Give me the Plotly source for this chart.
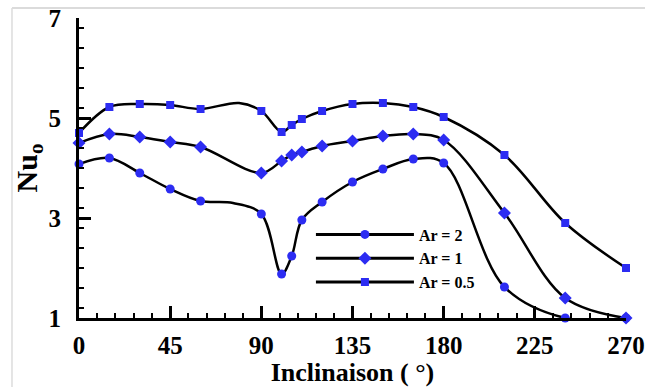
import plotly.graph_objects as go

# Marked data points (inclination in degrees, Nu_o)
x_ar2 = [0, 15, 30, 45, 60, 90, 100, 105, 110, 120, 135, 150, 165, 180, 210, 240, 270]
y_ar2 = [4.08, 4.20, 3.90, 3.58, 3.34, 3.08, 1.88, 2.24, 2.96, 3.32, 3.72, 3.98, 4.18, 4.10, 1.62, 1.00, 1.00]

x_ar1 = [0, 15, 30, 45, 60, 90, 100, 105, 110, 120, 135, 150, 165, 180, 210, 240, 270]
y_ar1 = [4.50, 4.68, 4.62, 4.52, 4.42, 3.90, 4.14, 4.26, 4.32, 4.44, 4.54, 4.64, 4.68, 4.56, 3.10, 1.40, 1.00]

x_ar05 = [0, 15, 30, 45, 60, 90, 100, 105, 110, 120, 135, 150, 165, 180, 210, 240, 270]
y_ar05 = [4.70, 5.22, 5.28, 5.26, 5.18, 5.14, 4.72, 4.86, 4.98, 5.14, 5.28, 5.30, 5.22, 5.02, 4.26, 2.90, 2.00]

# Extra unmarked points the smooth curves pass through
cx_ar2 = [76]
cy_ar2 = [3.30]
cx_ar1 = []
cy_ar1 = []
cx_ar05 = [79]
cy_ar05 = [5.30]

names = ["Ar = 2", "Ar = 1", "Ar = 0.5"]
symbols = ["circle", "diamond", "square"]
sizes = [9, 10, 8]

series = [
    (x_ar2, y_ar2, cx_ar2, cy_ar2),
    (x_ar1, y_ar1, cx_ar1, cy_ar1),
    (x_ar05, y_ar05, cx_ar05, cy_ar05),
]

BLUE = "#2c2cf2"
SERIF = "Liberation Serif"

fig = go.Figure()
for (xs, ys, cxs, cys), name, sym, sz in zip(series, names, symbols, sizes):
    pts = sorted(zip(list(xs) + list(cxs), list(ys) + list(cys)))
    fig.add_trace(go.Scatter(
        x=[p[0] for p in pts], y=[p[1] for p in pts], mode="lines",
        line=dict(color="black", width=2.5, shape="spline", smoothing=1.0),
        showlegend=False, hoverinfo="skip", cliponaxis=True))
    fig.add_trace(go.Scatter(
        x=xs, y=ys, mode="markers",
        marker=dict(symbol=sym, size=sz, color=BLUE),
        showlegend=False, cliponaxis=False))
    fig.add_trace(go.Scatter(
        x=[None], y=[None], mode="lines+markers", name=name,
        line=dict(color="black", width=3),
        marker=dict(symbol=sym, size=sz, color=BLUE)))

axis_common = dict(
    showline=True, linecolor="black", linewidth=3, mirror=False,
    ticks="inside", ticklen=12, tickwidth=3, tickcolor="black",
    showgrid=False, zeroline=False, automargin=False,
    ticklabeloverflow="allow",
    tickfont=dict(family=SERIF, size=25, color="black", weight="bold"),
)

fig.update_xaxes(
    range=[0, 270], tickvals=[0, 45, 90, 135, 180, 225, 270],
    minor=dict(dtick=9, ticks="inside", ticklen=5, tickwidth=1.5, tickcolor="black"),
    title=dict(text="Inclinaison ( °)", font=dict(family=SERIF, size=26, color="black", weight="bold"), standoff=2),
    ticklabelstandoff=3,
    **axis_common)
fig.update_yaxes(
    range=[1, 7], tickvals=[1, 3, 5, 7],
    minor=dict(dtick=0.4, ticks="inside", ticklen=5, tickwidth=1.5, tickcolor="black"),
    title=dict(text="Nu<sub>o</sub>", font=dict(family=SERIF, size=30, color="black", weight="bold"), standoff=3),
    ticklabelstandoff=10,
    **axis_common)

# light frame of the original image (top and left edges)
fig.add_shape(type="line", xref="paper", yref="paper", x0=-0.1225, x1=1.05, y0=1.0333, y1=1.0333,
              line=dict(color="#cfcfcf", width=1.5))
fig.add_shape(type="line", xref="paper", yref="paper", x0=-0.1225, x1=-0.1225, y0=-0.3, y1=1.0333,
              line=dict(color="#dcdcdc", width=1.5))

fig.update_layout(
    width=645, height=387,
    margin=dict(l=79, r=19, t=18, b=69, autoexpand=False),
    paper_bgcolor="white", plot_bgcolor="white",
    legend=dict(x=0.424, y=0.335, xanchor="left", yanchor="top",
                bgcolor="rgba(0,0,0,0)", itemwidth=98, tracegroupgap=0,
                font=dict(family=SERIF, size=16, color="black", weight="bold")),
)

fig.write_html("out.html")
